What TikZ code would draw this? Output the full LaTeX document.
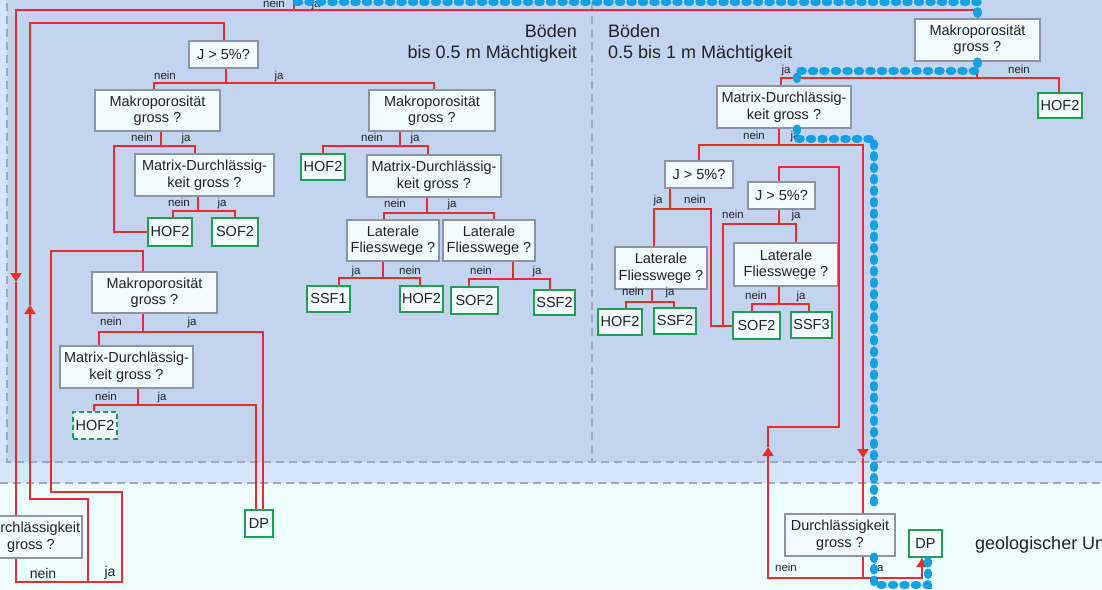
\documentclass[tikz,border=0pt]{standalone}
\usepackage{fontspec}
\setmainfont{Liberation Sans}
\usepackage{xcolor}
\usetikzlibrary{arrows.meta,calc}

\definecolor{rotlinie}{RGB}{228,45,45}
\definecolor{boxrand}{RGB}{140,148,165}
\definecolor{boxfill}{RGB}{242,251,255}
\definecolor{gruen}{RGB}{30,160,80}
\definecolor{blaupunkt}{RGB}{20,160,225}
\definecolor{bodenfill}{RGB}{195,212,240}
\definecolor{randfill}{RGB}{213,229,251}
\definecolor{untergrund}{RGB}{238,253,255}
\definecolor{strich}{RGB}{160,168,185}
\definecolor{schrift}{RGB}{35,35,35}

\newcommand{\boxfont}{\fontsize{14.5}{16.5}\selectfont}
\newcommand{\labfont}{\fontsize{11.5}{13}\selectfont}
\newcommand{\titfont}{\fontsize{18}{21}\selectfont}

\begin{document}
\begin{tikzpicture}[x=1pt,y=-1pt,
    frage/.style={draw=boxrand, line width=1.5pt, fill=boxfill, align=center, inner sep=0pt, font=\boxfont, text=schrift},
    blatt/.style={draw=gruen, line width=2pt, fill=boxfill, inner sep=0pt, font=\boxfont, text=schrift},
    lab/.style={font=\labfont, text=schrift, anchor=base, inner sep=0pt},
    titel/.style={font=\titfont, text=schrift, inner sep=0pt},
    rl/.style={draw=rotlinie, line width=2pt},
    pfeil/.style={-{Triangle[width=11pt,length=9pt]}},
    blau/.style={draw=blaupunkt, line width=8.5pt, line cap=round, dash pattern=on 2pt off 9.5pt},
    zone/.style={draw=strich, line width=1.2pt, dash pattern=on 8pt off 5pt}]
    \useasboundingbox (0,0) rectangle (1102,589);

    % Hintergrund und Zonen
    \fill[randfill] (0,0) rectangle (1102,483);
    \fill[untergrund] (0,483) rectangle (1102,589);
    \draw[zone] (0,483) -- (1102,483);
    \filldraw[zone, fill=bodenfill] (7,-10) rectangle (592,462);
    \filldraw[zone, fill=bodenfill] (592,-10) rectangle (1110,462);

    % Titel
    \node[titel, anchor=base east] (boedenA) at (577,37) {Böden};
    \node[titel, anchor=base east] (maechtA) at (577,58) {bis 0.5 m Mächtigkeit};
    \node[titel, anchor=base west] (boedenB) at (608,37) {Böden};
    \node[titel, anchor=base west] (maechtB) at (608,58) {0.5 bis 1 m Mächtigkeit};
    \node[titel, anchor=base west] (geol) at (975,549) {geologischer Untergrund};

    % Fragen, Boeden bis 0.5 m
    \node[frage, minimum width=69pt, minimum height=27pt] (jA) at (223.5,54.5) {J > 5\%?};
    \node[frage, minimum width=125pt, minimum height=41pt] (mkA) at (157.5,110.5) {Makroporosität\\gross ?};
    \node[frage, minimum width=139pt, minimum height=42pt] (mdA) at (204.5,175) {Matrix-Durchlässig-\\keit gross ?};
    \node[frage, minimum width=125pt, minimum height=41pt] (mkB) at (154.5,292.5) {Makroporosität\\gross ?};
    \node[frage, minimum width=133pt, minimum height=42pt] (mdB) at (126.5,367) {Matrix-Durchlässig-\\keit gross ?};
    \node[frage, minimum width=102pt, minimum height=42pt] (dkA) at (31,537) {Durchlässigkeit\\gross ?};
    \node[frage, minimum width=126pt, minimum height=41pt] (mkC) at (432,110.5) {Makroporosität\\gross ?};
    \node[frage, minimum width=134pt, minimum height=42pt] (mdC) at (434,176) {Matrix-Durchlässig-\\keit gross ?};
    \node[frage, minimum width=92pt, minimum height=41pt] (lfA) at (393,240.5) {Laterale\\Fliesswege ?};
    \node[frage, minimum width=92pt, minimum height=41pt] (lfB) at (489,240.5) {Laterale\\Fliesswege ?};

    % Fragen, Boeden 0.5 bis 1 m
    \node[frage, minimum width=125pt, minimum height=42pt] (mkD) at (977.5,40) {Makroporosität\\gross ?};
    \node[frage, minimum width=134pt, minimum height=42pt] (mdD) at (784,107) {Matrix-Durchlässig-\\keit gross ?};
    \node[frage, minimum width=68pt, minimum height=27pt] (jB) at (699,174.5) {J > 5\%?};
    \node[frage, minimum width=67pt, minimum height=27pt] (jC) at (781.5,195.5) {J > 5\%?};
    \node[frage, minimum width=92pt, minimum height=42pt] (lfC) at (661,268) {Laterale\\Fliesswege ?};
    \node[frage, minimum width=104pt, minimum height=43pt] (lfD) at (786,264.5) {Laterale\\Fliesswege ?};
    \node[frage, minimum width=110pt, minimum height=42pt] (dkB) at (840,535) {Durchlässigkeit\\gross ?};

    % Abflussprozesse
    \foreach \n/\x/\y/\w/\h/\t in {hofA/170/232/44/28/HOF2, sofA/235/232/46/28/SOF2, dpA/259/523.5/28/27/DP,
        hofC/323/167/44/26/HOF2, ssfA/328.5/299/43/26/SSF1, hofD/421.5/299/43/26/HOF2,
        sofB/474.5/300.5/47/27/SOF2, ssfB/554.5/302.5/41/25/SSF2, hofE/1060/105.5/44/25/HOF2,
        hofF/620/322/44/26/HOF2, ssfC/675/321/42/26/SSF2, sofC/756.5/325.5/47/27/SOF2,
        ssfD/811.5/325/41/26/SSF3, dpB/925.5/543.5/33/27/DP} {
        \node[blatt, minimum width=\w pt, minimum height=\h pt] (\n) at (\x,\y) {\t};
    }
    \node[blatt, dash pattern=on 5pt off 3pt, minimum width=44pt, minimum height=27pt] (hofB) at (95,425.5) {HOF2};

    % Verzweigungen mit beiden Zielen darunter
    \foreach \p/\sx/\d/\l/\lx/\r/\rx in {jA/2.5/14/mkA/-3.5/mkC/2, mdA/-6.5/14/hofA/3/sofA/0,
        mkB/-11.5/18/mdB/-27.5/dpA/4, mdB/11.5/16/hofB/-1/dpA/-3,
        mkC/-32/14/hofC/0/mdC/-6, mdC/-7/15/lfA/-9/lfB/5,
        lfA/-10/16/ssfA/10.5/hofD/-1.5, lfB/24/17/sofB/-5.5/ssfB/-4.5,
        mkD/-0.5/16/mdD/-3/hofE/-1, lfC/-9/12/hofF/6/ssfC/-1, lfD/-7/17/sofC/-4.5/ssfD/-2.5} {
        \draw[rl] ([xshift=\sx pt]\p.south) -- ++(0,\d) coordinate (\p j);
        \draw[rl] (\p j) -| ([xshift=\lx pt]\l.north);
        \draw[rl] (\p j) -| ([xshift=\rx pt]\r.north);
    }

    % Sonderwege
    \draw[rl] ([xshift=3.5pt]mkA.south) -- ++(0,14) coordinate (mkAj);
    \draw[rl] (mkAj) -| ([xshift=-33pt]hofA.west) |- (hofA.west);
    \draw[rl] (mkAj) -| ([xshift=-9.5pt]mdA.north);

    \draw[rl] ([xshift=-29pt]jB.south) -- ++(0,20) coordinate (jBj);
    \draw[rl] (jBj) -| ([xshift=-7pt]lfC.north);
    \draw[rl] (jBj) -| ([xshift=-21pt]sofC.west) |- (sofC.west);

    \draw[rl] ([xshift=-2.5pt]jC.south) -- ++(0,14) coordinate (jCj);
    \draw[rl] (jCj) -| ([xshift=10pt]lfD.north);
    \draw[rl] (jCj) -| ([xshift=-9pt]sofC.west) |- (sofC.west);

    \draw[rl] ([xshift=-5pt]mdD.south) -- ++(0,16) coordinate (mdDj);
    \draw[rl] (mdDj) -| (jB.north);
    \coordinate (pfeilD) at (863,458);
    \draw[rl,pfeil] (mdDj) -| (pfeilD);
    \draw[rl] (pfeilD) -- ([xshift=23pt]dkB.north);

    \draw[rl] ([xshift=23pt]dkB.south) -- ++(0,21) coordinate (dkBj);
    \coordinate (pfeilE) at (768,447);
    \draw[rl,pfeil] (dkBj) -| (pfeilE);
    \draw[rl] (pfeilE) -- ++(0,-20) -- ++(71,0) |- ([xshift=-2.5pt,yshift=14pt]jC.north) -- ([xshift=-2.5pt]jC.north);
    \draw[rl,pfeil] (dkBj) -| ([xshift=-3.5pt]dpB.south);

    % Zulauf von oben
    \coordinate (oben) at (294,0);
    \coordinate (pfeilA) at (16,282);
    \draw[rl,pfeil] (oben) -- ++(0,10) -| (pfeilA);
    \draw[rl] (pfeilA) -- ([xshift=-15pt]dkA.north);
    \draw[rl] (oben) -- ++(0,10) -| (mkD.north);

    % Rueckwege aus dem Untergrund
    \coordinate (gabelA) at (88,582);
    \coordinate (pfeilB) at (30,305);
    \draw[rl] ([xshift=-15pt]dkA.south) |- (gabelA);
    \draw[rl,pfeil] (gabelA) |- ++(-58,-83) -- (pfeilB);
    \draw[rl] (pfeilB) |- ([xshift=0.5pt,yshift=17pt]jA.north) -- ([xshift=0.5pt]jA.north);
    \draw[rl] (gabelA) -- ++(34,0) |- ++(-71,-90) |- ([xshift=-11.5pt,yshift=20pt]mkB.north) -- ([xshift=-11.5pt]mkB.north);

    % ja / nein
    \foreach \x/\y/\t [count=\i] in {274/7/nein, 316/7/ja, 165/79/nein, 279/79/ja,
        142/141/nein, 186/141/ja, 179/206/nein, 222/206/ja, 111/325/nein, 192/325/ja,
        106/400/nein, 162/400/ja, 372/141/nein, 415/141/ja, 395/207/nein, 452/207/ja,
        356/274/ja, 410/274/nein, 481/274/nein, 537/274/ja, 786/73/ja, 1019/73/nein,
        754/139/nein, 795/139/ja, 658/203/ja, 695/203/nein, 733/218/nein, 796/218/ja,
        633/295/nein, 670/295/ja, 756/299/nein, 801/299/ja, 786/571/nein, 879/571/ja} {
        \node[lab] (lab\i) at (\x,\y) {\t};
    }
    \node[lab, font=\fontsize{14}{16}\selectfont] (labneinA) at (43,578) {nein};
    \node[lab, font=\fontsize{14}{16}\selectfont] (labjaA) at (110,576) {ja};

    % Beispielweg (blau gepunktet)
    \coordinate (blauA) at (297,2);
    \draw[blau] (blauA) -| ([yshift=3pt]mkD.north);
    \draw[blau] (mkD.south) -- ++(0,9) -| ([xshift=13pt,yshift=3pt]mdD.north);
    \draw[blau] ([xshift=13pt]mdD.south) -- ++(0,10) -| ([xshift=34pt,yshift=2pt]dkB.north);
    \draw[blau] ([xshift=34pt]dkB.south) -- ++(0,28) -| ([xshift=2.5pt]dpB.south);
\end{tikzpicture}
\end{document}
